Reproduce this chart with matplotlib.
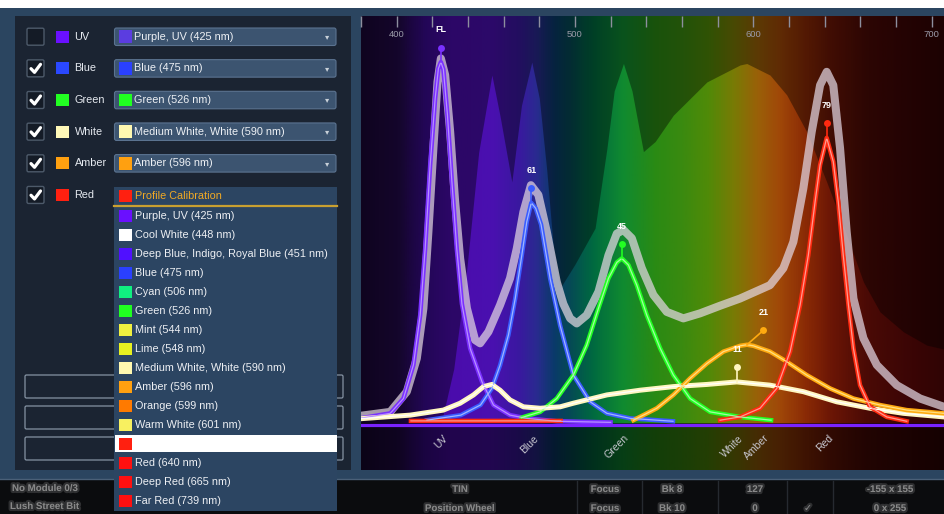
import matplotlib
matplotlib.use("Agg")
import matplotlib.pyplot as plt
import matplotlib.patheffects as pe
import numpy as np
from matplotlib.patches import Rectangle, FancyBboxPatch
from matplotlib.colors import LinearSegmentedColormap

plt.rcParams['font.family'] = ['Liberation Sans', 'DejaVu Sans']

# ---------------- data ----------------
# emitter channels (left panel + curves)
row_names = ["UV", "Blue", "Green", "White", "Amber", "Red"]
row_colors = ["#6a10ff", "#2a48ff", "#22ff22", "#fff8b8", "#ffa010", "#ff2010"]
row_checked = [False, True, True, True, True, True]
row_choice = ["Purple, UV (425 nm)", "Blue (475 nm)", "Green (526 nm)",
              "Medium White, White (590 nm)", "Amber (596 nm)", None]
choice_colors = ["#5b3de0", "#2a40ff", "#20ff20", "#fff8b0", "#ffa010", None]

# open dropdown list
list_items = ["Purple, UV (425 nm)", "Cool White (448 nm)",
              "Deep Blue, Indigo, Royal Blue (451 nm)", "Blue (475 nm)",
              "Cyan (506 nm)", "Green (526 nm)", "Mint (544 nm)", "Lime (548 nm)",
              "Medium White, White (590 nm)", "Amber (596 nm)", "Orange (599 nm)",
              "Warm White (601 nm)", "", "Red (640 nm)", "Deep Red (665 nm)",
              "Far Red (739 nm)"]
list_colors = ["#6a10ff", "#ffffff", "#5010ff", "#2a40ff", "#10f080", "#20ff20",
               "#f0f040", "#e8f020", "#fff8b0", "#ffa010", "#ff7a00", "#f8f060",
               "#ff2010", "#ff1010", "#ff1010", "#ff1010"]

# spectra: wavelength (nm) / relative height (UV peak = 100)
uv_nm = [379.5, 396.4, 403.8, 409.4, 413.2, 416.0, 418.8, 421.6, 423.4, 424.8, 426.2,
         428.5, 431.0, 433.7, 436.6, 441.2, 447.8, 454.3, 463.6, 473.0, 490, 520]
uv_val = [1.3, 2.7, 6.8, 16.1, 29.9, 48.4, 71.5, 89.9, 98.2, 100, 98, 85.3, 66.8,
          48.4, 33, 20.7, 11.5, 5.0, 2.2, 1.3, 0.5, 0.2]

blue_nm = [417, 436, 447, 453.4, 458, 462.7, 466.5, 470.2, 473, 475.5, 478, 481,
           486.1, 491.7, 499.1, 508.5, 517.9, 531, 555]
blue_val = [0.8, 2.2, 5.0, 9.6, 16, 24.4, 34.5, 46.5, 55.8, 61, 59.5, 55, 40, 27,
            13.3, 5.9, 2.7, 1.3, 0.5]

green_nm = [470, 480.5, 489.8, 499.1, 506.6, 513.2, 518.8, 523.5, 526.3, 530.0, 534.7,
            540.3, 547.8, 555.2, 564.6, 575.8, 592.6, 610]
green_val = [1.5, 3.1, 6.8, 13.3, 21.6, 31.8, 40.1, 44.5, 45.6, 43.8, 38.2, 29.9,
             20.7, 13.3, 6.8, 3.1, 1.7, 0.8]

white_nm = [379.5, 407.6, 426.2, 435.6, 443.1, 448.7, 453.4, 458.0, 463.6, 471.1,
            480.5, 491.7, 499.1, 517.9, 536.5, 555.2, 574.0, 590.8, 609.4, 628.1,
            646.8, 665.5, 684.2, 707]
white_val = [1.2, 2.2, 3.6, 5.5, 7.8, 10.1, 10.7, 9.1, 6.4, 4.5, 4.1, 4.5, 5.5, 7.8,
             9.1, 10.1, 10.7, 11.4, 10.5, 8.7, 5.9, 4.1, 2.7, 1.7]

amber_nm = [532.8, 545.9, 555.2, 564.6, 574.0, 583.3, 592.6, 596.5, 600.1, 609.4,
            618.8, 630.0, 643.1, 656.2, 671.1, 686.1, 707]
amber_val = [0.8, 4.1, 7.8, 12.4, 16.5, 19.8, 21.4, 21.7, 21.4, 19.8, 17.0, 13.3,
             9.6, 6.8, 5.0, 3.6, 2.7]

# red has a short stray segment on the baseline, then a gap (None)
red_nm = [408, 492, 500, 581.4, 592.6, 603.8, 613.2, 620.7, 626.3, 630.9, 634.7,
          637.5, 641.2, 644.9, 647.7, 650.5, 653.4, 656.2, 659.9, 665.5, 674.9,
          686.1]
red_val = [0.6, 0.6, None, 0.8, 1.7, 4.1, 9.6, 19.8, 32.7, 46.5, 61.3, 71.5, 79,
           72.4, 61.3, 46.5, 32.7, 20.7, 10.5, 4.5, 1.7, 0.5]

# combined output (thick grey line)
total_nm = [379.5, 396.4, 405.7, 411.3, 415.0, 417.8, 420.6, 422.9, 424.8, 427.2,
            430.0, 432.8, 435.6, 439.4, 444.0, 446.8, 451.5, 458.0, 463.6, 467.4,
            471.1, 475.3, 479.5, 484.2, 489.8, 493.5, 497.3, 501.0, 506.6, 513.2,
            518.8, 523.5, 527.2, 531.9, 537.5, 544.0, 551.5, 560.8, 570.2, 581.4,
            592.6, 609.4, 616.9, 622.5, 628.1, 632.8, 637.5, 641.2, 644.9, 648.7,
            652.4, 656.2, 661.8, 669.3, 680.5, 693.6, 707]
total_val = [2.0, 3.1, 8.7, 17.9, 31.8, 53.0, 76.1, 94.5, 101, 96.4, 80.7, 61.3,
             45.6, 31.8, 23.0, 22.1, 25.3, 32.7, 40.1, 48.4, 58.5, 65.9, 63.2, 53.0,
             39.1, 33, 29.0, 27.6, 29.9, 36.4, 46.5, 52.5, 53.5, 51.2, 42.9, 35.5,
             30.8, 29.0, 30.4, 32.5, 34.5, 38.2, 42.9, 50.2, 65.0, 80.7, 93.6, 97.3,
             93.6, 76.1, 53.0, 34.5, 23.5, 16.1, 10.5, 6.8, 4.5]

# target spectrum shown as the lighter area in the background
fill_nm = [379.5, 400, 425, 432, 439.4, 446, 453.4, 458, 464.6, 470, 475.8, 480,
           484.2, 488, 491.7, 500, 511.3, 517.9, 522, 527.2, 532, 538.4, 545,
           555.2, 574.0, 592.6, 596.4, 609.4, 618.8, 630.0, 641.2, 652.4, 661.8,
           671.1, 684.2, 697.3, 707]
fill_val = [0, 0, 0, 15, 43, 75, 96.4, 85, 66.8, 88, 100, 90, 70, 48, 37.4, 44, 54,
            76, 92, 99.6, 92, 75.2, 78, 85.3, 94.5, 99.2, 99.6, 96.4, 90.9, 80.7,
            66.8, 52.1, 39.1, 30.8, 25.3, 21.6, 20.5]

peak_labels = ["FL", "61", "45", "11", "21", "79"]

# status bar texts (blurred in the screenshot)
status_text = ["No Module 0/3", "Lush Street Bit", "TIN", "Position Wheel", "Focus",
               "Focus", "Bk 8", "Bk 10", "127", "0", "\u2713", "-155 x 155", "0 x 255"]

# ---------------- figure + pixel background axes ----------------
W, H = 944, 514
fig = plt.figure(figsize=(W / 100, H / 100), dpi=100)
fig.patch.set_facecolor('#2b4560')

bg = fig.add_axes([0, 0, 1, 1])
bg.set_xlim(0, W)
bg.set_ylim(H, 0)
bg.axis('off')


def box(x, y, w, h, fc, ec='none', lw=0, r=0, z=1):
    if r > 0:
        p = FancyBboxPatch((x, y), w, h, boxstyle="round,pad=0,rounding_size=%g" % r,
                           fc=fc, ec=ec, lw=lw, zorder=z)
    else:
        p = Rectangle((x, y), w, h, fc=fc, ec=ec, lw=lw, zorder=z)
    bg.add_patch(p)


box(0, 0, W, 7.5, 'white')
box(15, 15.5, 336, 454.5, '#1b2432')
box(0, 479, W, 35, '#0b0c0e')
bg.plot([0, W], [478.8, 478.8], color='#4a6078', lw=1)

status_pos = [(12, 488, 'left'), (10, 506, 'left'), (460, 489, 'center'),
              (460, 508, 'center'), (605, 489, 'center'), (605, 508, 'center'),
              (672, 489, 'center'), (672, 508, 'center'), (755, 489, 'center'),
              (755, 508, 'center'), (808, 508, 'center'), (890, 489, 'center'),
              (890, 508, 'center')]
blur = [pe.withStroke(linewidth=3, foreground='#9a9a9a', alpha=0.25)]
for st, (sx, sy, ha) in zip(status_text, status_pos):
    bg.text(sx, sy, st, ha=ha, va='center', fontsize=7, fontweight='bold',
            color='#b8b8b8', alpha=0.55, path_effects=blur,
            family=['Liberation Sans', 'DejaVu Sans'])
for sx in [577, 642, 718, 787, 833]:
    bg.plot([sx, sx], [481, 514], color='#262a30', lw=1)

# channel rows
for i, name in enumerate(row_names):
    yc = 36.7 + i * 31.65
    box(27, yc - 8.5, 17, 17, '#141b26', ec='#4d5a6a', lw=1, r=1.5)
    if row_checked[i]:
        bg.plot([31, 34.5, 40.5], [yc + 0.3, yc + 4, yc - 4], color='white', lw=2.3,
                solid_capstyle='round', solid_joinstyle='round', zorder=2)
    box(56, yc - 6, 13, 12, row_colors[i])
    bg.text(74.5, yc, name, va='center', ha='left', color='#e6eaf0', fontsize=7.8)
    if row_choice[i] is not None:
        box(114.5, yc - 8.7, 221.5, 17.5, '#3c5470', ec='#5b7390', lw=0.8, r=2)
        box(119, yc - 6.3, 12.5, 12.5, choice_colors[i], z=2)
        bg.text(133.5, yc, row_choice[i], va='center', ha='left', color='#eef1f5',
                fontsize=7.8, zorder=2)
        bg.text(327.5, yc, '\u25be', va='center', ha='center', color='#c8d0d8',
                fontsize=6, family='DejaVu Sans', zorder=2)

# empty buttons hidden behind the list
for by in [375, 406, 437]:
    box(25, by, 318, 23, '#1b2432', ec='#8593a3', lw=0.9, r=1.5)

# open dropdown
box(114, 186.5, 223, 324, '#2c4562', z=3)
box(119, 190, 12.5, 12, '#ff2010', z=4)
bg.text(135, 196, "Profile Calibration", va='center', ha='left', color='#f2aa24',
        fontsize=7.8, zorder=4)
bg.plot([114, 337], [205.5, 205.5], color='#c9a030', lw=1.6, zorder=4)
for j, item in enumerate(list_items):
    yc = 216 + j * 18.97
    if item == "":
        box(114.7, yc - 9, 222, 17.5, 'white', z=4)
    box(119, yc - 6, 12.5, 12, list_colors[j], z=5)
    bg.text(135, yc, item, va='center', ha='left', color='#eef0f4', fontsize=7.8,
            zorder=5)

# ---------------- spectrum chart ----------------
x0, x1 = 380.1, 707.0
y0, y1 = -13.0, 112.9
ax = fig.add_axes([361 / W, (H - 470) / H, (W - 361) / W, (470 - 15.5) / H])
ax.set_zorder(2)
ax.set_xlim(x0, x1)
ax.set_ylim(y0, y1)
for s in ax.spines.values():
    s.set_visible(False)

stops = [(380, '#1a0835'), (400, '#220a48'), (415, '#3a0a90'), (430, '#4a0cac'),
         (453, '#4a10b0'), (468, '#3a18a0'), (478, '#2a2a90'), (488, '#0a3a6a'),
         (497, '#054a55'), (510, '#006a40'), (527, '#108a30'), (545, '#2a8a14'),
         (560, '#3a8a10'), (575, '#508a08'), (590, '#7a7a05'), (603, '#9a6008'),
         (615, '#a04808'), (630, '#8a2a05'), (645, '#6a1505'), (665, '#4a0a05'),
         (690, '#3a0505'), (707, '#300404')]
cmap = LinearSegmentedColormap.from_list(
    'spec', [((w - 380) / (707 - 380), c) for w, c in stops])
ax.imshow(np.linspace(0, 1, 800)[None, :], cmap=cmap, aspect='auto',
          extent=[380, 707, y0, y1], zorder=0)
ax.fill_between(fill_nm, fill_val, y1, color='black', alpha=0.4, lw=0, zorder=1)
ax.axhspan(y0, 0, color='black', alpha=0.55, lw=0, zorder=1)

ax.set_xticks(np.arange(380, 701, 20))
ax.set_yticks([])
ax.tick_params(axis='x', top=True, bottom=False, direction='in', length=8,
               width=1, color='#8d8f9e', labeltop=False, labelbottom=False)
for t in [400, 500, 600, 700]:
    ax.text(t, 107.5, str(t), ha='center', va='center', color='#9a9aa8', fontsize=6.8)

ax.plot(total_nm, total_val, color='#e2d6e2', alpha=0.72, lw=5.8,
        solid_capstyle='round', solid_joinstyle='round', zorder=3)
ax.axhline(-0.4, color='#7a22ff', lw=2.3, zorder=3.5)

series = [(uv_nm, uv_val), (blue_nm, blue_val), (green_nm, green_val),
          (white_nm, white_val), (amber_nm, amber_val), (red_nm, red_val)]
outer = ['#7a30ff', '#3a5cff', '#22ff22', '#fff6c0', '#ffaa10', '#ff2a10']
inner = ['#b890ff', '#a0b4ff', '#a0ffa0', '#ffffff', '#ffe080', '#ff9a90']
mark_dx = [0, 0, 0, 0, 9.2, 0]
lab_dx = [1, 1, 1, 1, 9.5, 1]

for i, (nm, val) in enumerate(series):
    v = np.array(val, dtype=float)
    ax.plot(nm, v, color=outer[i], lw=3.2 if i != 3 else 3.6, zorder=4,
            solid_joinstyle='round')
    ax.plot(nm, v, color=inner[i], lw=0.9, zorder=4.1, solid_joinstyle='round')

for i, (nm, val) in enumerate(series):
    v = np.array(val, dtype=float)
    k = int(np.nanargmax(v))
    pn, pv = nm[k], v[k]
    ax.plot([pn, pn + mark_dx[i]], [pv, pv + 4], color=outer[i], lw=1.2, zorder=6)
    ax.plot(pn + mark_dx[i], pv + 4, 'o', ms=5, color=outer[i], mec='none', zorder=6)
    ax.text(pn + mark_dx[i], pv + 8.9, peak_labels[i], ha='center', va='center',
            color='white', fontsize=6.5, fontweight='bold', zorder=7)
    ax.text(pn + lab_dx[i], -2.8, row_names[i], ha='right', va='top', rotation=45,
            rotation_mode='anchor', color='#c8c8d0', fontsize=7.5, zorder=7)

fig.savefig('out.png', dpi=100, facecolor=fig.get_facecolor())
